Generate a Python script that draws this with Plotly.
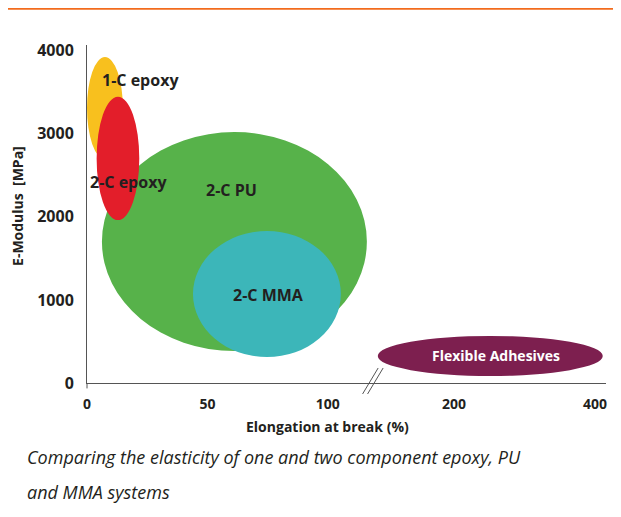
import plotly.graph_objects as go

# ---- data ----
materials = ["1-C epoxy", "2-C epoxy", "2-C PU", "2-C MMA", "Flexible Adhesives"]
elong_min = [0.0, 4.0, 6.2, 44.0, 92.0]        # Elongation at break (%)
elong_max = [14.9, 21.7, 116.2, 105.4, 411.0]
modulus_min = [2695, 1961, 385, 313, 84]        # E-Modulus (MPa)
modulus_max = [3923, 3445, 3020, 1829, 566]
colors = ["#f8c01e", "#e31e2a", "#57b24a", "#3cb6b9", "#7d1f4f"]
x_ticks_low = [0, 50, 100]
x_ticks_high = [200, 400]
y_ticks = [0, 1000, 2000, 3000, 4000]
caption = ["Comparing the elasticity of one and two component epoxy, PU",
           "and MMA systems"]

TXT = "#231f20"
AX = "#555555"
FONT = "Open Sans"

fig = go.Figure()
# invisible traces to activate both x axes
fig.add_trace(go.Scatter(x=[None], y=[None], xaxis="x", yaxis="y", showlegend=False))
fig.add_trace(go.Scatter(x=[None], y=[None], xaxis="x2", yaxis="y", showlegend=False))

shapes = []
draw_order = [2, 3, 0, 1, 4]
for i in draw_order:
    xref = "x2" if elong_max[i] > 150 else "x"
    shapes.append(dict(type="circle", xref=xref, yref="y",
                       x0=elong_min[i], x1=elong_max[i],
                       y0=modulus_min[i], y1=modulus_max[i],
                       fillcolor=colors[i], line=dict(width=0), layer="above"))

# axis break marks
for dx in (0.0, 0.0096):
    shapes.append(dict(type="line", xref="paper", yref="paper",
                       x0=0.531 + dx, y0=-0.0325, x1=0.561 + dx, y1=0.0444,
                       line=dict(color=AX, width=1)))
# little tail of y axis below 0
shapes.append(dict(type="line", xref="paper", yref="paper",
                   x0=0, x1=0, y0=0, y1=-0.016, line=dict(color=AX, width=1)))
# orange rule at top
shapes.append(dict(type="line", xref="paper", yref="paper",
                   x0=-0.2, x1=1.05, y0=1.108, y1=1.108,
                   line=dict(color="#f26b1d", width=2.5)))
# faint right border
shapes.append(dict(type="line", xref="paper", yref="paper",
                   x0=1.0245, x1=1.0245, y0=1.10, y1=-0.41,
                   line=dict(color="#f4ecec", width=1)))

annotations = []
label_pos = {"1-C epoxy": ("x", 22.4, 3646, TXT),
             "2-C epoxy": ("x", 17.4, 2419, TXT),
             "2-C PU": ("x", 60.2, 2322, TXT),
             "2-C MMA": ("x", 75.5, 1059, TXT),
             "Flexible Adhesives": ("x2", 259.6, 337, "#ffffff")}
for m in materials:
    xr, lx, ly, c = label_pos[m]
    annotations.append(dict(text=m, xref=xr, yref="y", x=lx, y=ly, showarrow=False,
                            xanchor="center", yanchor="middle",
                            font=dict(family=FONT, size=16 if xr == "x" else 14,
                                      color=c, weight="bold")))

annotations.append(dict(text="E-Modulus  [MPa]", xref="paper", yref="paper",
                        x=-0.1330, y=0.5237, textangle=-90, showarrow=False,
                        xanchor="center", yanchor="middle",
                        font=dict(family=FONT, size=14, color=TXT, weight="bold")))
annotations.append(dict(text="Elongation at break (%)", xref="paper", yref="paper",
                        x=0.464, y=-0.130, showarrow=False,
                        xanchor="center", yanchor="middle",
                        font=dict(family=FONT, size=14, color=TXT, weight="bold")))
for k, line in enumerate(caption):
    annotations.append(dict(text=line, xref="paper", yref="paper",
                            x=-0.1195, y=[-0.219, -0.3225][k], xanchor="left",
                            yanchor="middle", showarrow=False,
                            font=dict(family=FONT, size=18, color=TXT,
                                      style="italic", weight=400)))

axis_common = dict(showgrid=False, zeroline=False, showline=True, linecolor=AX,
                   linewidth=1, ticks="outside", ticklen=8,
                   tickcolor="rgba(0,0,0,0)",
                   tickfont=dict(family=FONT, size=14, color=TXT, weight="bold"))

# page body has an 8px margin, so the figure is 8px smaller than the window
fig.update_layout(
    width=613, height=509,
    margin=dict(l=79, r=15, t=37, b=134),
    paper_bgcolor="white", plot_bgcolor="white",
    showlegend=False,
    xaxis=dict(domain=[0, 0.549], range=[0, 118.3], tickvals=x_ticks_low,
               anchor="y", **axis_common),
    xaxis2=dict(domain=[0.549, 1], range=[83.7, 415.6], tickvals=x_ticks_high,
                anchor="y", **axis_common),
    yaxis=dict(range=[0, 4068], tickvals=y_ticks, showgrid=False, zeroline=False,
               showline=True, linecolor=AX, linewidth=1, ticks="outside",
               ticklen=9, tickcolor="rgba(0,0,0,0)",
               tickfont=dict(family=FONT, size=16, color=TXT, weight="bold")),
    shapes=shapes,
    annotations=annotations,
)

fig.write_html("out.html")
